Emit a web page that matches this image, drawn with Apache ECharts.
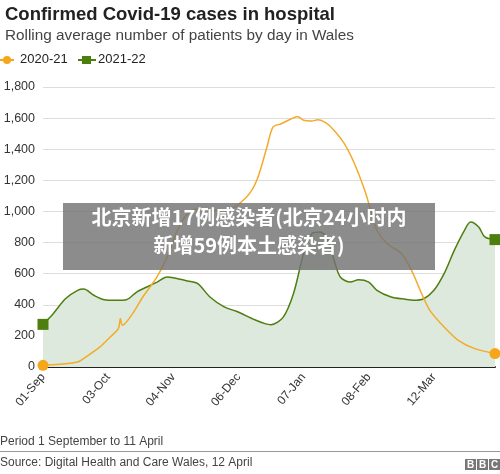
<!DOCTYPE html><html><head><meta charset="utf-8"><script src="https://cdn.jsdelivr.net/npm/echarts@6/dist/echarts.min.js"></script>
<style>body{margin:0}#c{width:500px;height:474px}</style></head><body><div id="c"></div><script>
const tickLabels=['01-Sep','03-Oct','04-Nov','06-Dec','07-Jan','08-Feb','12-Mar'];
const daysA=[0,8,17,21,28,33,37,38,39,44,49,56,61,66,71,76,82,90,100,105,110,113,117,122,125,128,132,135,139,143,148,153,158,161,164,169,176,181,186,190,197,204,212,222];
const valsA=[11,17,32,64,129,193,246,311,268,343,450,579,707,879,986,1018,1007,1007,1093,1200,1414,1543,1564,1596,1611,1586,1581,1590,1569,1521,1436,1307,1136,1007,879,793,729,621,471,364,257,171,118,86];
const daysB=[0,5,11,17,20,25,30,36,41,46,51,56,61,64,71,76,82,89,95,104,109,112,118,123,128,132,136,140,143,146,151,155,160,164,171,178,182,187,192,197,202,207,210,214,217,222];
const valsB=[274,343,439,493,501,461,433,429,433,482,514,546,579,574,553,536,450,386,358,304,279,272,321,471,729,857,868,814,686,579,546,561,546,493,450,435,429,439,493,600,750,879,932,900,836,819];
const ch=echarts.init(document.getElementById('c'));
const pair=(d,v)=>d.map((x,i)=>[x,v[i]]);
const endSym=n=>(val,p)=>(p.dataIndex===0||p.dataIndex===n-1)?11:0;
const OR='#f5a719',GR='#4d7f0e';
ch.setOption({
 animation:false,
 title:[{text:'Confirmed Covid-19 cases in hospital',left:0,top:0,textStyle:{fontFamily:'Liberation Sans',fontSize:18.5,fontWeight:'bold',color:'#222'}},
  {text:'Rolling average number of patients by day in Wales',left:0,top:23,textStyle:{fontFamily:'Liberation Sans',fontSize:15.3,fontWeight:'normal',color:'#444'}}],
 grid:{left:43,right:5,top:87,bottom:107},
 xAxis:{type:'value',min:0,max:222,interval:32,splitLine:{show:false},axisTick:{show:false},
  axisLine:{lineStyle:{color:'#222',width:2}},
  axisLabel:{rotate:50,fontFamily:'Liberation Sans',fontSize:12,color:'#333',margin:8,showMaxLabel:false,formatter:v=>tickLabels[v/32]||''}},
 yAxis:{type:'value',min:0,max:1800,interval:200,axisLine:{show:false},axisTick:{show:false},
  splitLine:{lineStyle:{color:'#ddd'}},
  axisLabel:{fontFamily:'Liberation Sans',fontSize:12.5,color:'#333',margin:8,formatter:v=>v.toLocaleString('en-US')}},
 series:[
  {name:'2021-22',type:'line',data:pair(daysB,valsB),smooth:0.3,symbol:'rect',showAllSymbol:true,symbolSize:endSym(daysB.length),
   itemStyle:{color:GR},lineStyle:{width:1.5,color:GR},areaStyle:{color:'#dde9dd',opacity:1},z:1},
  {name:'2020-21',type:'line',data:pair(daysA,valsA),smooth:0.3,symbol:'circle',showAllSymbol:true,symbolSize:endSym(daysA.length),
   itemStyle:{color:OR},lineStyle:{width:1.5,color:'#f2ab2a'},z:2}
 ],
 graphic:[
  {type:'line',shape:{x1:0,y1:60,x2:14,y2:60},style:{stroke:OR,lineWidth:2}},
  {type:'circle',shape:{cx:7,cy:60,r:4},style:{fill:OR}},
  {type:'text',x:20,y:53,style:{text:'2020-21',font:'13px "Liberation Sans"',fill:'#222'}},
  {type:'line',shape:{x1:78,y1:60,x2:96,y2:60},style:{stroke:GR,lineWidth:2}},
  {type:'rect',shape:{x:82,y:56,width:9,height:8},style:{fill:GR}},
  {type:'text',x:98,y:53,style:{text:'2021-22',font:'13px "Liberation Sans"',fill:'#222'}},
  {type:'rect',left:63,top:203,shape:{width:372,height:67},style:{fill:'rgba(115,115,115,0.82)'},z:100},
  {type:'text',x:249,y:207,style:{text:'北京新增17例感染者(北京24小时内',font:'bold 20px "Noto Sans CJK SC"',fill:'#fff',align:'center'},z:101},
  {type:'text',x:249,y:235,style:{text:'新增59例本土感染者)',font:'bold 20px "Noto Sans CJK SC"',fill:'#fff',align:'center'},z:101},
  {type:'text',left:0,top:436,style:{text:'Period 1 September to 11 April',font:'12px "Liberation Sans"',fill:'#444'}},
  {type:'rect',left:0,top:451,shape:{width:500,height:1},style:{fill:'#999'}},
  {type:'text',left:0,top:457,style:{text:'Source: Digital Health and Care Wales, 12 April',font:'12px "Liberation Sans"',fill:'#444'}},
  ...['B','B','C'].map((t,i)=>({type:'group',left:465+i*12,top:459,children:[
   {type:'rect',shape:{width:11,height:11},style:{fill:'#777'}},
   {type:'text',x:5.5,y:1,style:{text:t,font:'bold 10px "Liberation Sans"',fill:'#fff',align:'center'}}]}))
 ]
});
</script></body></html>
